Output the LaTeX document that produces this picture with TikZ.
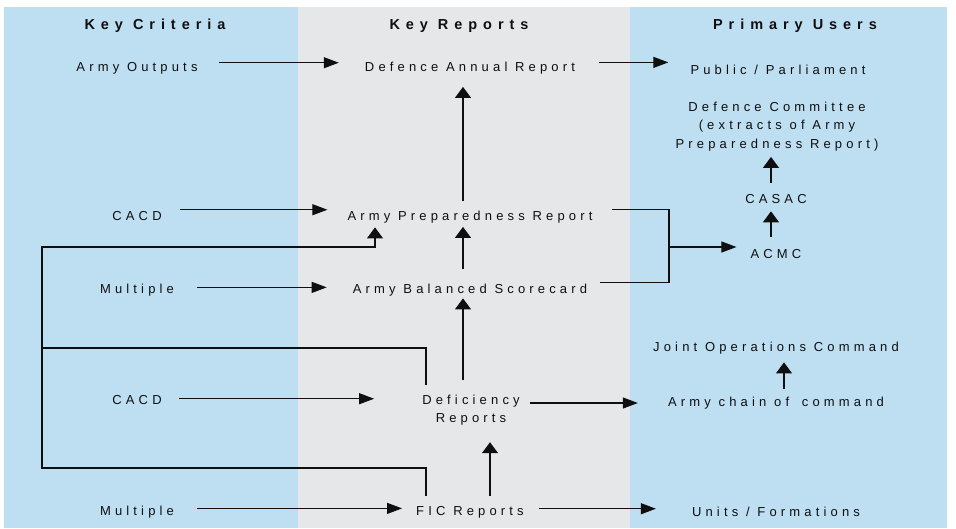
\documentclass[tikz,border=0pt]{standalone}
\usepackage{fontspec}
\setmainfont{Liberation Sans}
\newfontfamily\bodyf[LetterSpace=32]{Liberation Sans}
\newfontfamily\headf[LetterSpace=41]{Liberation Sans}
\usetikzlibrary{arrows.meta}
\definecolor{pblue}{RGB}{190,223,241}
\definecolor{pgrey}{RGB}{230,231,232}
\definecolor{ink}{RGB}{15,15,15}
\tikzset{
  lbl/.style={inner sep=0pt, anchor=base, text=ink, align=center,
    font=\bodyf\fontsize{13}{18.2}\selectfont},
  hdr/.style={inner sep=0pt, anchor=base, text=ink,
    font=\headf\bfseries\fontsize{14.5}{16}\selectfont},
  ln/.style={line width=1.1pt, draw=ink},
  harr/.style={ln, -{Triangle[length=15pt,width=11pt]}},
  varr/.style={ln, -{Triangle[length=11pt,width=16pt]}},
}
\begin{document}
\begin{tikzpicture}[x=1pt,y=-1pt]
\useasboundingbox (0,0) rectangle (956,528);
% panels
\fill[pblue] (4,7) rectangle (298,528);
\fill[pgrey] (298,7) rectangle (630,528);
\fill[pblue] (630,7) rectangle (947,528);
% headers
\node[hdr] (hkc) at (155,29) {Key Criteria};
\node[hdr] (hkr) at (459,29) {Key Reports};
\node[hdr] (hpu) at (795,29) {Primary Users};
% labels
\node[lbl] (ao) at (137,71) {Army Outputs};
\node[lbl] (dar) at (470,71) {Defence Annual Report};
\node[lbl] (pub) at (778,74) {Public / Parliament};
\node[lbl, anchor=north] (dc) at (777,102) {Defence Committee\\(extracts of Army\\Preparedness Report)};
\node[lbl] (casac) at (776,203) {CASAC};
\node[lbl] (acmc) at (776,258) {ACMC};
\node[lbl] (cacd1) at (137,220) {CACD};
\node[lbl] (apr) at (470,220) {Army Preparedness Report};
\node[lbl] (mul1) at (137,293) {Multiple};
\node[lbl] (abs) at (470,293) {Army Balanced Scorecard};
\node[lbl] (joc) at (776,351) {Joint Operations Command};
\node[lbl] (acc) at (776,406) {Army chain of\hspace{5pt} command};
\node[lbl] (cacd2) at (137,404) {CACD};
\node[lbl, anchor=north] (def) at (471,395) {Deficiency\\Reports};
\node[lbl] (mul2) at (137,515) {Multiple};
\node[lbl] (fic) at (470,515) {FIC Reports};
\node[lbl] (units) at (776,516) {Units / Formations};
% coordinates for bus bends
\coordinate (j) at (669,247);
\coordinate (tl) at (42,247);
\coordinate (ml) at (42,348);
\coordinate (bl) at (42,468);
% connectors
\draw[harr, shorten >=26pt] ([xshift=21pt,yshift=-1pt]ao.north east) -- ([yshift=-1pt]ao.north east -| dar.west);
\draw[harr, shorten >=22pt] ([xshift=24pt,yshift=-1pt]dar.north east) -- ([yshift=-1pt]dar.north east -| pub.west);
\draw[varr, shorten <=9pt, shorten >=13pt] ([xshift=-7pt]apr.north) -- ([xshift=-7pt]apr.north |- dar.south);
\draw[harr, shorten >=20pt] ([xshift=18pt,yshift=1pt]cacd1.north east) -- ([yshift=1pt]cacd1.north east -| apr.west);
\draw[ln] ([xshift=19pt,yshift=1pt]apr.north east) -| (j) |- ([xshift=13pt,yshift=1pt]abs.north east);
\draw[harr, shorten >=14pt] (j) -- (j -| acmc.west);
\draw[varr, shorten <=11pt, shorten >=6pt] ([xshift=-5pt]casac.north) -- ([xshift=-5pt]casac.north |- dc.south);
\draw[varr, shorten <=12pt, shorten >=8pt] ([xshift=-5pt]acmc.north) -- ([xshift=-5pt]acmc.north |- casac.south);
\draw[varr, shorten <=14pt, shorten >=4pt] ([xshift=-7pt]abs.north) -- ([xshift=-7pt]abs.north |- apr.south);
\draw[harr, shorten >=26pt] ([xshift=23pt,yshift=-4pt]mul1.north east) -- ([yshift=-4pt]mul1.north east -| abs.west);
\draw[varr, shorten <=15pt, shorten >=2.5pt] ([xshift=-8pt]def.north) -- ([xshift=-8pt]def.north |- abs.south);
\draw[varr] ([xshift=-44pt,yshift=10pt]fic.north) |- (bl) -- (tl) -| ([xshift=-95pt,yshift=-4.5pt]apr.south);
\draw[ln] ([xshift=-45pt,yshift=10pt]def.north) |- (ml);
\draw[harr, shorten >=48pt] ([xshift=17pt,yshift=-4pt]cacd2.north east) -- ([yshift=-4pt]cacd2.north east -| def.west);
\draw[harr, shorten >=30pt] ([xshift=10pt,yshift=-8pt]def.north east) -- ([yshift=-8pt]def.north east -| acc.west);
\draw[varr, shorten <=7pt, shorten >=8.5pt] ([xshift=8pt]acc.north) -- ([xshift=8pt]acc.north |- joc.south);
\draw[varr, shorten <=10pt, shorten >=16.5pt] ([xshift=20pt]fic.north) -- ([xshift=20pt]fic.north |- def.south);
\draw[harr, shorten >=14pt] ([xshift=23pt,yshift=-3pt]mul2.north east) -- ([yshift=-3pt]mul2.north east -| fic.west);
\draw[harr, shorten >=36pt] ([xshift=15pt,yshift=-3pt]fic.north east) -- ([yshift=-3pt]fic.north east -| units.west);
\end{tikzpicture}
\end{document}
